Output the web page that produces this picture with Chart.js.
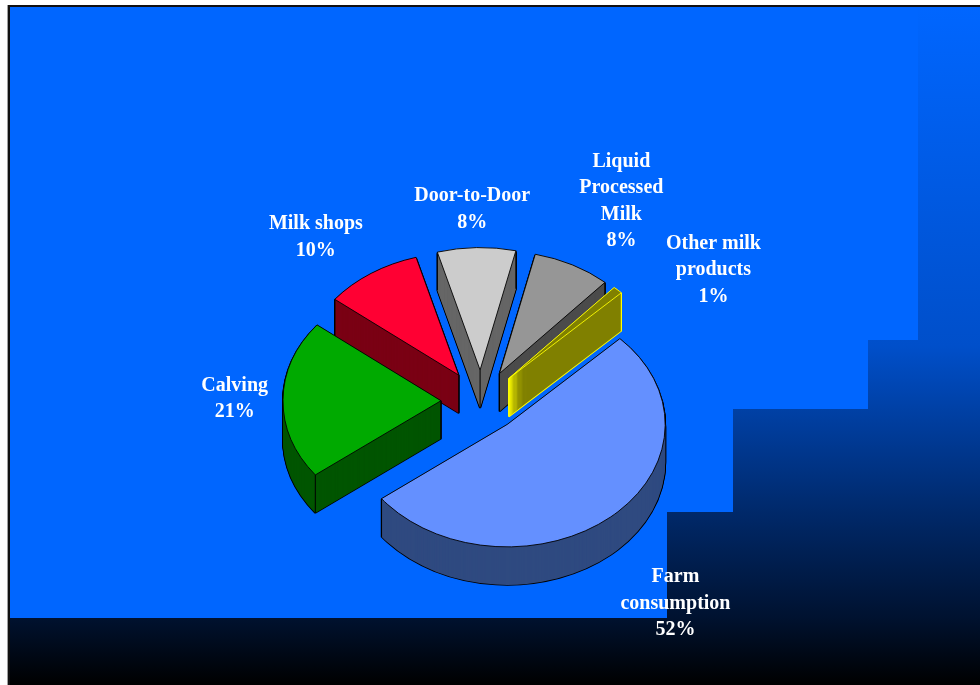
<!DOCTYPE html>
<html>
<head>
<meta charset="utf-8">
<title>Milk utilisation</title>
<script src="https://cdn.jsdelivr.net/npm/chart.js@4.4.1/dist/chart.umd.min.js"></script>
<style>
  html, body { margin: 0; padding: 0; background: #fff; }
  canvas { display: block; }
</style>
</head>
<body>
<canvas id="milkChart" width="980" height="685"></canvas>
<script>
// Milk utilisation shares (%)
const categories = [["Farm", "consumption"], ["Calving"], ["Milk shops"], ["Door-to-Door"], ["Liquid", "Processed", "Milk"], ["Other milk", "products"]]
const shares = [52, 21, 10, 8, 8, 1]

const topColors = ["#6490FF", "#00AA00", "#FF0033", "#CCCCCC", "#969696", "#808000"]
const sideColors = ["#2F4A80", "#005500", "#7A0014", "#666666", "#4B4B4B", "#808000"]
const edgeColors = ["#000000", "#000000", "#000000", "#000000", "#000000", "#FFFF00"]

// fake 3D look
const TILT = 0.775
const DEPTH = 38
const EXPLODE = 40
const LABEL_GAP = 15
const LINE_H = 26.5

function midAngle(arc) {
  return (arc.startAngle + arc.endAngle) / 2
}

function clamp(v) {
  return Math.max(-1, Math.min(1, v))
}

// slide background: gradient with a stepped blue panel on top
const backdrop = {
  id: "backdrop",
  beforeDraw(chart) {
    const ctx = chart.ctx
    const w = chart.width
    const h = chart.height
    ctx.save()
    ctx.fillStyle = "#ffffff"
    ctx.fillRect(0, 0, w, h)
    ctx.fillStyle = "#a0a0a0"
    ctx.fillRect(7, 5, 1, h - 5)
    ctx.fillStyle = "#111111"
    ctx.fillRect(8, 5, w - 8, h - 5)

    const g = ctx.createLinearGradient(0, 7, 0, h)
    g.addColorStop(0, "#0066FF")
    g.addColorStop(0.5, "#004FCA")
    g.addColorStop(0.75, "#002868")
    g.addColorStop(0.9, "#001230")
    g.addColorStop(1, "#000000")
    ctx.fillStyle = g
    ctx.fillRect(10, 7, w - 10, h - 7)

    ctx.fillStyle = "#0066FF"
    ctx.beginPath()
    ctx.moveTo(10, 7)
    ctx.lineTo(918, 7)
    ctx.lineTo(918, 340)
    ctx.lineTo(868, 340)
    ctx.lineTo(868, 409)
    ctx.lineTo(733, 409)
    ctx.lineTo(733, 512)
    ctx.lineTo(667, 512)
    ctx.lineTo(667, 618)
    ctx.lineTo(10, 618)
    ctx.closePath()
    ctx.fill()
    ctx.restore()
  }
}

function drawLayer(ctx, arc, a, d, opts) {
  const base = arc.options
  arc.options = Object.assign({}, base, opts)
  ctx.save()
  ctx.translate(0, d)
  ctx.translate(arc.x, arc.y)
  ctx.scale(1, TILT)
  ctx.translate(-arc.x, -arc.y)
  ctx.translate(Math.cos(a) * EXPLODE, Math.sin(a) * EXPLODE)
  arc.draw(ctx)
  ctx.restore()
  arc.options = base
}

// draws the pie squashed, exploded and extruded, back slices first
const tiltedPie = {
  id: "tiltedPie",
  beforeDatasetsDraw(chart) {
    const ctx = chart.ctx
    const arcs = chart.getDatasetMeta(0).data
    const order = arcs.map((a, i) => i).sort((i, j) => Math.sin(midAngle(arcs[i])) - Math.sin(midAngle(arcs[j])))

    order.forEach(i => {
      const arc = arcs[i]
      const a = midAngle(arc)
      // outlined layers first, then plain fills: only the silhouette keeps its line
      for (let d = DEPTH; d >= 1; d--) {
        drawLayer(ctx, arc, a, d, { backgroundColor: sideColors[i], borderWidth: 2 })
      }
      for (let d = DEPTH; d >= 1; d--) {
        drawLayer(ctx, arc, a, d, { backgroundColor: sideColors[i], borderWidth: 0 })
      }

      // vertical edges at the corners, only where a wall next to it faces us
      const s0 = arc.startAngle
      const s1 = arc.endAngle
      const ox = arc.x + Math.cos(a) * EXPLODE
      const oy = arc.y + Math.sin(a) * EXPLODE * TILT
      const corners = [
        { x: ox, y: oy, show: Math.cos(s0) < 0 || Math.cos(s1) > 0 },
        { x: ox + Math.cos(s0) * arc.outerRadius, y: oy + Math.sin(s0) * arc.outerRadius * TILT, show: Math.cos(s0) < 0 || Math.sin(s0) > 0 },
        { x: ox + Math.cos(s1) * arc.outerRadius, y: oy + Math.sin(s1) * arc.outerRadius * TILT, show: Math.cos(s1) > 0 || Math.sin(s1) > 0 },
      ]
      ctx.save()
      ctx.strokeStyle = edgeColors[i]
      ctx.lineWidth = 1
      corners.filter(p => p.show).forEach(p => {
        ctx.beginPath()
        ctx.moveTo(p.x, p.y)
        ctx.lineTo(p.x, p.y + DEPTH)
        ctx.stroke()
      })
      ctx.restore()

      drawLayer(ctx, arc, a, 0, {})
    })
    return false
  }
}

// labels outside the slices, nearest box corner on the slice's direction,
// slid along the rim when they run into a label already placed
const sliceLabels = {
  id: "sliceLabels",
  afterDraw(chart) {
    const ctx = chart.ctx
    const arcs = chart.getDatasetMeta(0).data
    const total = shares.reduce((s, v) => s + v, 0)
    ctx.save()
    ctx.font = "bold 20px 'Liberation Serif', 'Times New Roman', serif"
    ctx.fillStyle = "#ffffff"
    ctx.textAlign = "center"
    ctx.textBaseline = "middle"

    const placed = []
    arcs.forEach((arc, i) => {
      const lines = categories[i].concat([Math.round(shares[i] / total * 100) + "%"])
      const a = midAngle(arc)
      const c = Math.cos(a)
      const s = Math.sin(a)
      const dist = arc.outerRadius + EXPLODE + LABEL_GAP
      const ax = arc.x + c * dist
      const ay = arc.y + s * dist * TILT + (s > 0 ? DEPTH : 0)
      const w = Math.max(...lines.map(t => ctx.measureText(t).width))
      const h = lines.length * LINE_H
      let bx = ax + clamp(c * 3) * w / 2
      let by = ay + clamp(s * 3) * h / 2

      const tl = Math.hypot(s, c * TILT)
      const tx = -s / tl
      const ty = c * TILT / tl
      const hits = () => placed.find(p => Math.abs(bx - p.x) < (w + p.w) / 2 + 2 && Math.abs(by - p.y) < (h + p.h) / 2)
      let p = hits()
      let guard = 0
      while (p && guard < 400) {
        const sign = (bx - p.x) * tx + (by - p.y) * ty >= 0 ? 1 : -1
        bx += sign * tx
        by += sign * ty
        p = hits()
        guard++
      }
      placed.push({ x: bx, y: by, w: w, h: h })

      lines.forEach((t, k) => {
        ctx.fillText(t, bx, by - h / 2 + LINE_H / 2 + k * LINE_H)
      })
    })
    ctx.restore()
  }
}

document.addEventListener("DOMContentLoaded", () => {
  const ctx = document.getElementById("milkChart").getContext("2d")
  new Chart(ctx, {
    type: "pie",
    data: {
      labels: categories,
      datasets: [
        {
          data: shares,
          backgroundColor: topColors,
          borderColor: edgeColors,
          borderWidth: 1,
        },
      ],
    },
    options: {
      responsive: false,
      animation: false,
      events: [],
      rotation: 45.5,
      radius: 158,
      layout: {
        padding: { left: 100, right: 118, top: 217, bottom: 100 },
      },
      plugins: {
        legend: { display: false },
        tooltip: { enabled: false },
      },
    },
    plugins: [backdrop, tiltedPie, sliceLabels],
  })
})
</script>
</body>
</html>
